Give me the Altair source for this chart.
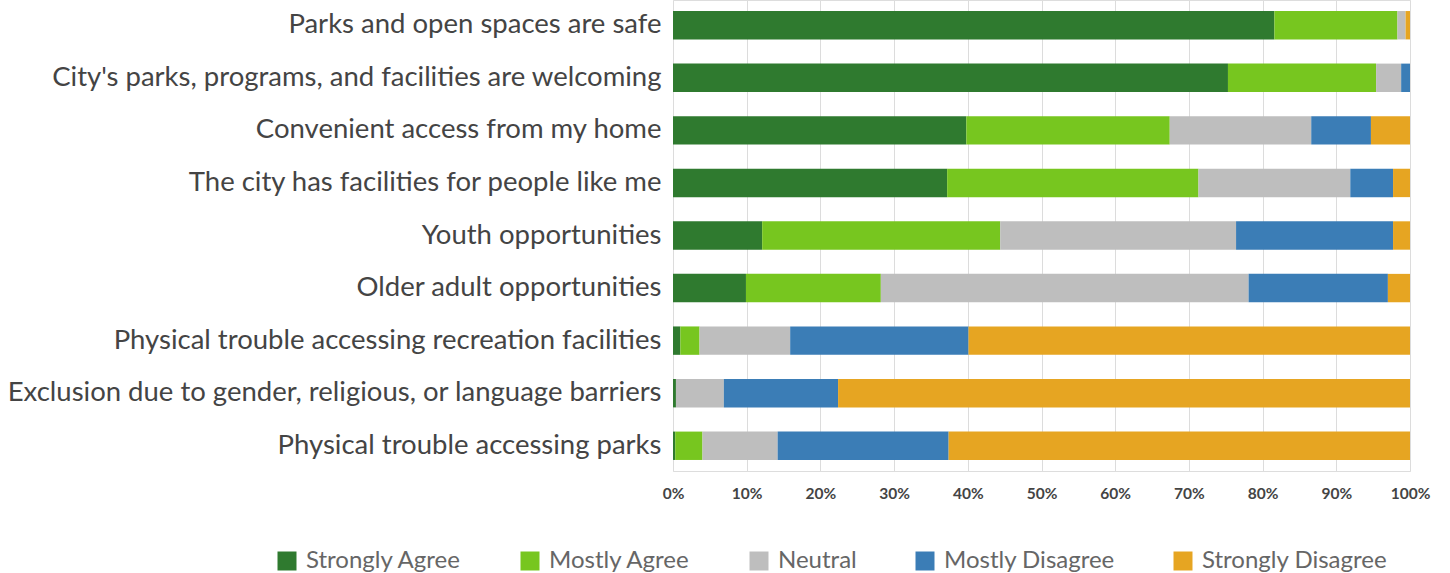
import altair as alt
import pandas as pd

# Survey statements, top to bottom
statements = [
    "Parks and open spaces are safe",
    "City's parks, programs, and facilities are welcoming",
    "Convenient access from my home",
    "The city has facilities for people like me",
    "Youth opportunities",
    "Older adult opportunities",
    "Physical trouble accessing recreation facilities",
    "Exclusion due to gender, religious, or language barriers",
    "Physical trouble accessing parks",
]

responses = ["Strongly Agree", "Mostly Agree", "Neutral", "Mostly Disagree", "Strongly Disagree"]
colors = ["#2f7a2f", "#77c61f", "#bebebe", "#3b7db6", "#e6a522"]

# Share of respondents (%) per statement, one list per response
strongly_agree = [81.6, 75.3, 39.8, 37.2, 12.1, 9.9, 1.0, 0.4, 0.3]
mostly_agree = [16.7, 20.1, 27.6, 34.1, 32.3, 18.3, 2.6, 0.0, 3.7]
neutral = [1.1, 3.4, 19.2, 20.6, 32.0, 49.9, 12.3, 6.5, 10.2]
mostly_disagree = [0.0, 1.2, 8.1, 5.8, 21.3, 18.9, 24.2, 15.5, 23.2]
strongly_disagree = [0.6, 0.0, 5.3, 2.3, 2.3, 3.0, 59.9, 77.6, 62.6]

series = [strongly_agree, mostly_agree, neutral, mostly_disagree, strongly_disagree]

rows = []
for r_idx, (resp, vals) in enumerate(zip(responses, series)):
    for stmt, v in zip(statements, vals):
        rows.append({"statement": stmt, "response": resp, "order": r_idx, "value": v / 100})
df = pd.DataFrame(rows)

FONT = "Lato"

chart = (
    alt.Chart(df)
    .mark_bar()
    .encode(
        x=alt.X(
            "value:Q",
            stack="zero",
            scale=alt.Scale(domain=[0, 1], nice=False),
            axis=alt.Axis(
                format="%",
                values=[i / 10 for i in range(11)],
                title=None,
                domain=False,
                ticks=False,
                grid=True,
                gridColor="#dcdcdc",
                gridWidth=1,
                labelFont=FONT,
                labelFontWeight="bold",
                labelFontSize=15.5,
                labelColor="#444444",
                labelPadding=15,
                labelFlush=False,
            ),
        ),
        y=alt.Y(
            "statement:N",
            sort=statements,
            scale=alt.Scale(paddingInner=0.46, paddingOuter=0.21),
            axis=alt.Axis(
                title=None,
                domain=False,
                ticks=False,
                grid=False,
                labelFont=FONT,
                labelFontSize=27.5,
                labelColor="#444444",
                labelPadding=12,
                labelLimit=700,
            ),
        ),
        color=alt.Color(
            "response:N",
            sort=responses,
            scale=alt.Scale(domain=responses, range=colors),
            legend=alt.Legend(
                title=None,
                orient="none",
                direction="horizontal",
                legendX=-398,
                legendY=549,
                symbolType="square",
                symbolSize=361,
                symbolStrokeWidth=0,
                symbolOpacity=1,
                labelFont=FONT,
                labelFontSize=24,
                labelColor="#666666",
                labelOffset=7,
                labelLimit=400,
                columnPadding=56,
            ),
        ),
        order=alt.Order("order:Q", sort="ascending"),
    )
    .properties(
        width=737,
        height=471,
        autosize=alt.AutoSizeParams(type="none"),
        padding={"left": 673, "top": 0, "right": 40, "bottom": 102},
    )
    .configure_view(stroke=None)
    .configure(background="white")
)

chart.save("out.html", embed_options={"renderer": "svg", "actions": False})
